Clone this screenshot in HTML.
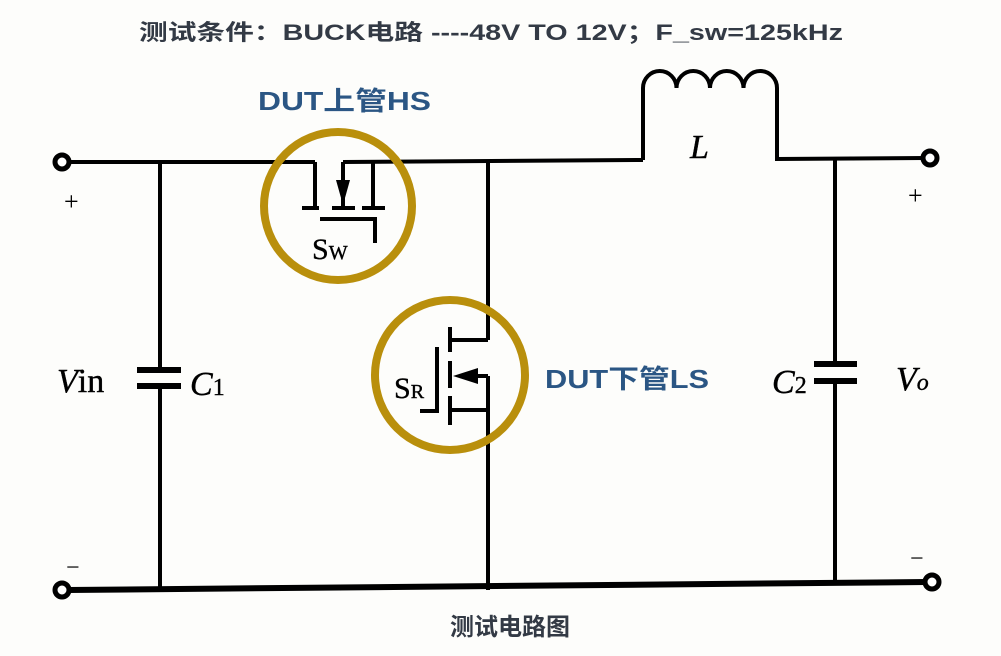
<!DOCTYPE html>
<html><head><meta charset="utf-8"><style>
html,body{margin:0;padding:0;background:#fdfdfb;}
svg{display:block}
.t{font-family:"Liberation Sans","Noto Sans CJK SC",sans-serif;font-weight:bold}
.s{font-family:"Liberation Serif","Noto Serif CJK SC",serif}
</style></head><body>
<svg width="1001" height="656" viewBox="0 0 1001 656" xmlns="http://www.w3.org/2000/svg">
<rect width="1001" height="656" fill="#fdfdfb"/>
<text class="t" x="491" y="40" font-size="22" fill="#333a45" text-anchor="middle" textLength="704" lengthAdjust="spacingAndGlyphs">测试条件：BUCK电路 ----48V TO 12V；F_sw=125kHz</text>
<text class="t" x="258" y="110" font-size="26" fill="#2b5684" textLength="173" lengthAdjust="spacingAndGlyphs">DUT上管HS</text>
<text class="t" x="545" y="388" font-size="26" fill="#2b5684" textLength="164" lengthAdjust="spacingAndGlyphs">DUT下管LS</text>
<text class="t" x="510" y="635" font-size="24" fill="#333a45" text-anchor="middle">测试电路图</text>

<g stroke="#000" fill="none" stroke-width="4">
<line x1="68" y1="162" x2="315" y2="162"/>
<line x1="343" y1="162" x2="643" y2="160"/>
<polyline points="643,160 643,88"/>
<path d="M643,88 A16.75,17 0 0 1 676.5,88 A16.75,17 0 0 1 710,88 A16.75,17 0 0 1 743.5,88 A16.75,17 0 0 1 777,88"/>
<polyline points="777,88 777,159 925,158"/>
<line x1="68" y1="590" x2="926" y2="582" stroke-width="6"/>
<line x1="160" y1="162" x2="160" y2="370"/>
<line x1="160" y1="386" x2="160" y2="590"/>
<line x1="137" y1="370" x2="181" y2="370" stroke-width="6"/>
<line x1="137" y1="386" x2="181" y2="386" stroke-width="6"/>
<line x1="835" y1="159" x2="835" y2="364"/>
<line x1="835" y1="381" x2="835" y2="583"/>
<line x1="814" y1="364" x2="857" y2="364" stroke-width="6"/>
<line x1="814" y1="381" x2="857" y2="381" stroke-width="6"/>
<line x1="315" y1="162" x2="315" y2="207"/>
<line x1="343" y1="162" x2="343" y2="207"/>
<line x1="373" y1="162" x2="373" y2="207"/>
<line x1="302" y1="208" x2="319" y2="208"/>
<line x1="332" y1="208" x2="355" y2="208"/>
<line x1="362" y1="208" x2="385" y2="208"/>
<polyline points="320,219 375,219 375,243"/>
<line x1="488" y1="162" x2="488" y2="340"/>
<line x1="450" y1="340" x2="488" y2="340"/>
<line x1="488" y1="376" x2="488" y2="590"/>
<line x1="460" y1="376" x2="488" y2="376"/>
<line x1="450" y1="410" x2="488" y2="410"/>
<line x1="450" y1="327" x2="450" y2="352"/>
<line x1="450" y1="361" x2="450" y2="388"/>
<line x1="450" y1="396" x2="450" y2="425"/>
<polyline points="437,347 437,411 420,411"/>
</g>
<polygon points="343,205 336,180 350,180" fill="#000"/>
<polygon points="453,376 478,368 478,384" fill="#000"/>
<g fill="#fff" stroke="#000" stroke-width="5">
<circle cx="62" cy="162" r="7"/>
<circle cx="930" cy="158" r="7"/>
<circle cx="62" cy="590" r="7"/>
<circle cx="932" cy="582" r="7"/>
</g>
<g fill="none" stroke="#b98f0c" stroke-width="8">
<circle cx="338" cy="206" r="74"/>
<circle cx="450" cy="375" r="75"/>
</g>
<g class="s" fill="#000">
<text x="64" y="210" font-size="26">+</text>
<text x="66" y="575" font-size="24">−</text>
<text x="908" y="204" font-size="26">+</text>
<text x="910" y="566" font-size="24">−</text>
<text x="57" y="392" font-size="34" stroke="#000" stroke-width="0.4"><tspan font-style="italic">V</tspan>in</text>
<text x="190" y="395" font-size="34" stroke="#000" stroke-width="0.4"><tspan font-style="italic">C</tspan><tspan font-size="24">1</tspan></text>
<text x="772" y="393" font-size="34" stroke="#000" stroke-width="0.4"><tspan font-style="italic">C</tspan><tspan font-size="24">2</tspan></text>
<text x="896" y="390" font-size="34" font-style="italic" stroke="#000" stroke-width="0.4">V<tspan font-size="24">o</tspan></text>
<text x="690" y="158" font-size="34" font-style="italic" stroke="#000" stroke-width="0.4">L</text>
<text x="312" y="259" font-size="30" stroke="#000" stroke-width="0.4">S<tspan font-size="20">W</tspan></text>
<text x="394" y="398" font-size="30" stroke="#000" stroke-width="0.4">S<tspan font-size="20">R</tspan></text>
</g>
</svg>
</body></html>
